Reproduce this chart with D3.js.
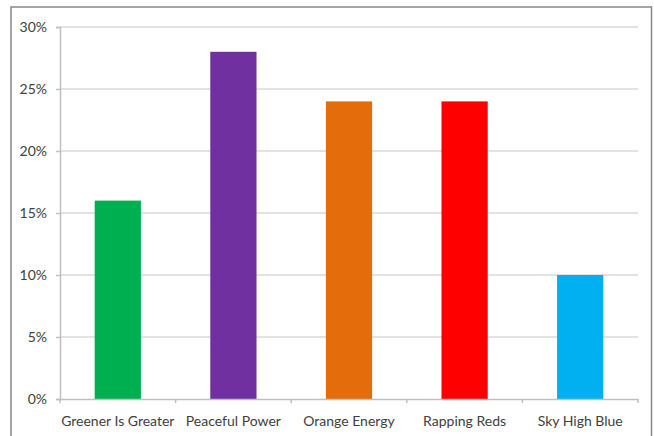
<!DOCTYPE html>
<html><head><meta charset="utf-8">
<script src="https://cdn.jsdelivr.net/npm/d3@7"></script>
<style>body{margin:0;background:#fff}svg{display:block}</style>
</head><body>
<svg id="c" width="654" height="436"></svg>
<script>
const categories = ["Greener Is Greater","Peaceful Power","Orange Energy","Rapping Reds","Sky High Blue"];
const values = [0.16, 0.28, 0.24, 0.24, 0.10];
const colors = ["#00B050","#7030A0","#E46C0A","#FF0000","#00B0F0"];
const yTicks = [0,0.05,0.10,0.15,0.20,0.25,0.30];

const svg = d3.select("#c");
const font = "Lato, 'Open Sans', sans-serif";
// chart border
svg.append("rect").attr("x",11).attr("y",7).attr("width",640.5).attr("height",440)
  .attr("fill","#fff").attr("stroke","#868686").attr("stroke-width",1.5);

const m = {l:60, r:638, t:27, b:399};
const x = d3.scaleBand().domain(categories).range([m.l,m.r]).paddingInner(0.6).paddingOuter(0.3);
const xb = d3.scaleBand().domain(categories).range([m.l,m.r]);
const y = d3.scaleLinear().domain([0,0.30]).range([m.b,m.t]);

// gridlines
svg.append("g").selectAll("line").data(yTicks.slice(1)).join("line")
  .attr("x1",m.l).attr("x2",m.r).attr("y1",d=>y(d)).attr("y2",d=>y(d))
  .attr("stroke","#d9d9d9").attr("stroke-width",1.5);

// bars
svg.append("g").selectAll("rect").data(values).join("rect")
  .attr("x",(d,i)=>x(categories[i])).attr("width",x.bandwidth())
  .attr("y",d=>y(d)).attr("height",d=>y(0)-y(d))
  .attr("fill",(d,i)=>colors[i]);

// y axis
const ya = svg.append("g").attr("transform",`translate(${m.l},0)`)
  .call(d3.axisLeft(y).tickValues(yTicks).tickFormat(d3.format(".0%")).tickSize(4).tickPadding(9));
ya.select(".domain").attr("stroke","#bfbfbf").attr("stroke-width",1.5);
ya.selectAll(".tick line").attr("stroke","#bfbfbf").attr("stroke-width",1.5);
ya.selectAll("text").attr("fill","#404040").style("font-family",font).style("font-size","14px");

// x axis
const xa = svg.append("g").attr("transform",`translate(0,${m.b})`)
  .call(d3.axisBottom(xb).tickSize(0).tickPadding(17));
xa.select(".domain").attr("stroke","#bfbfbf").attr("stroke-width",1.5);
xa.selectAll("text").attr("fill","#404040").style("font-family",font).style("font-size","14px");
// category boundary ticks
svg.append("g").selectAll("line").data(d3.range(categories.length+1)).join("line")
  .attr("x1",i=>m.l+i*xb.step()).attr("x2",i=>m.l+i*xb.step())
  .attr("y1",m.b).attr("y2",m.b+4).attr("stroke","#bfbfbf").attr("stroke-width",1.5);
</script>
</body></html>
